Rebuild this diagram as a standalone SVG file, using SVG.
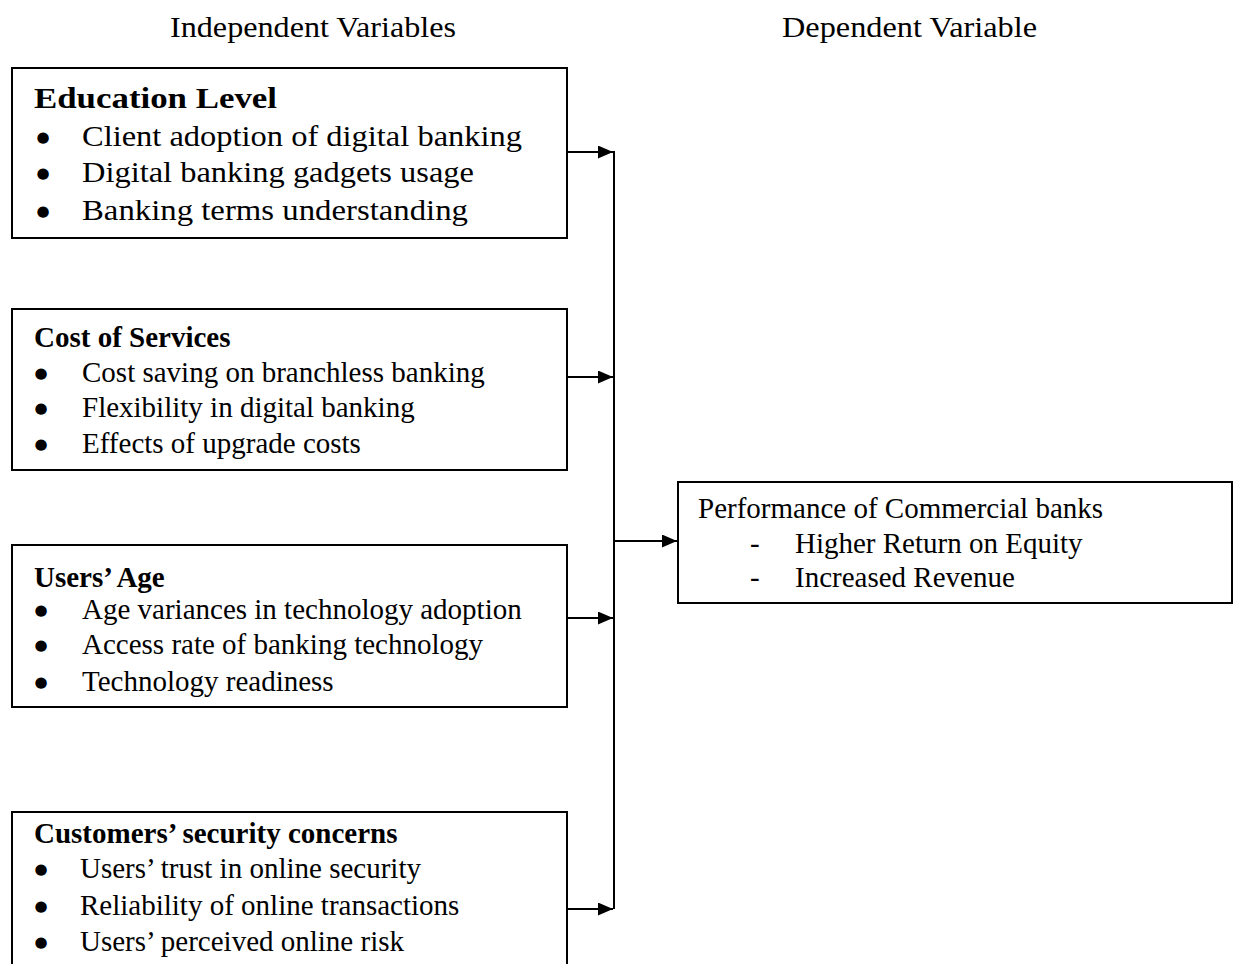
<svg xmlns="http://www.w3.org/2000/svg" width="1233" height="964" viewBox="0 0 1233 964">
<style>
.box{fill:#fff;stroke:#000;stroke-width:2}
.t{font-family:"Liberation Serif","Times New Roman",serif;font-size:29px;fill:#000}
.b{font-weight:bold}
.bu{font-family:"DejaVu Sans",sans-serif;font-size:15px;fill:#000;text-anchor:middle}
.ln{stroke:#000;stroke-width:2;fill:none}
</style>
<defs>
<marker id="arr" viewBox="0 0 15 13" refX="15" refY="6.5" markerWidth="15" markerHeight="13" markerUnits="userSpaceOnUse" orient="auto">
<path d="M0,0 L15,6.5 L0,13 Z" fill="#000"/>
</marker>
</defs>
<rect width="1233" height="964" fill="#fff"/>
<g id="headers">
<text class="t" x="170" y="37" textLength="286" lengthAdjust="spacingAndGlyphs">Independent Variables</text>
<text class="t" x="782" y="37" textLength="255" lengthAdjust="spacingAndGlyphs">Dependent Variable</text>
</g>
<g id="education">
<rect class="box" x="12" y="68" width="555" height="170"/>
<text class="t b" x="34" y="108" textLength="243" lengthAdjust="spacingAndGlyphs">Education Level</text>
<text class="bu" x="43" y="142">●</text>
<text class="t" x="82" y="146" textLength="440" lengthAdjust="spacingAndGlyphs">Client adoption of digital banking</text>
<text class="bu" x="43" y="178">●</text>
<text class="t" x="82" y="182" textLength="392" lengthAdjust="spacingAndGlyphs">Digital banking gadgets usage</text>
<text class="bu" x="43" y="216">●</text>
<text class="t" x="82" y="220" textLength="386" lengthAdjust="spacingAndGlyphs">Banking terms understanding</text>
</g>
<g id="cost">
<rect class="box" x="12" y="309" width="555" height="161"/>
<text class="t b" x="34" y="347">Cost of Services</text>
<text class="bu" x="41" y="378">●</text>
<text class="t" x="82" y="382">Cost saving on branchless banking</text>
<text class="bu" x="41" y="413">●</text>
<text class="t" x="82" y="417">Flexibility in digital banking</text>
<text class="bu" x="41" y="449">●</text>
<text class="t" x="82" y="453">Effects of upgrade costs</text>
</g>
<g id="age">
<rect class="box" x="12" y="545" width="555" height="162"/>
<text class="t b" x="34" y="587">Users’ Age</text>
<text class="bu" x="41" y="615">●</text>
<text class="t" x="82" y="619">Age variances in technology adoption</text>
<text class="bu" x="41" y="650">●</text>
<text class="t" x="82" y="654">Access rate of banking technology</text>
<text class="bu" x="41" y="687">●</text>
<text class="t" x="82" y="691">Technology readiness</text>
</g>
<g id="security">
<rect class="box" x="12" y="812" width="555" height="170"/>
<text class="t b" x="34" y="843">Customers’ security concerns</text>
<text class="bu" x="41" y="874">●</text>
<text class="t" x="80" y="878">Users’ trust in online security</text>
<text class="bu" x="41" y="911">●</text>
<text class="t" x="80" y="915">Reliability of online transactions</text>
<text class="bu" x="41" y="947">●</text>
<text class="t" x="80" y="951">Users’ perceived online risk</text>
</g>
<g id="performance">
<rect class="box" x="678" y="482" width="554" height="121"/>
<text class="t" x="698" y="518">Performance of Commercial banks</text>
<text class="t" x="750" y="553">-</text>
<text class="t" x="795" y="553">Higher Return on Equity</text>
<text class="t" x="750" y="587">-</text>
<text class="t" x="795" y="587">Increased Revenue</text>
</g>
<g id="connectors">
<line class="ln" x1="614" y1="151" x2="614" y2="909"/>
<line class="ln" x1="567" y1="152" x2="613" y2="152" marker-end="url(#arr)"/>
<line class="ln" x1="567" y1="377" x2="613" y2="377" marker-end="url(#arr)"/>
<line class="ln" x1="567" y1="618" x2="613" y2="618" marker-end="url(#arr)"/>
<line class="ln" x1="567" y1="909" x2="613" y2="909" marker-end="url(#arr)"/>
<line class="ln" x1="614" y1="541" x2="677" y2="541" marker-end="url(#arr)"/>
</g>
</svg>
